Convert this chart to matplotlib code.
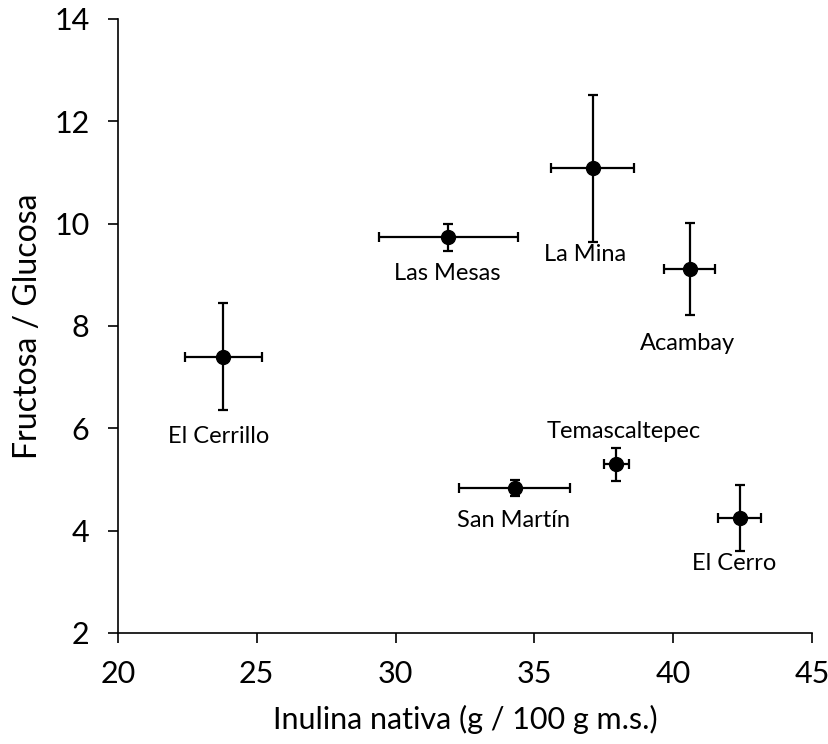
import matplotlib.pyplot as plt

# sitios y valores
sitios = ['El Cerrillo', 'Las Mesas', 'La Mina', 'Acambay',
          'Temascaltepec', 'San Martín', 'El Cerro']
inulina = [23.8, 31.9, 37.1, 40.6, 37.95, 34.3, 42.4]
inulina_err = [1.4, 2.5, 1.5, 0.92, 0.45, 2.0, 0.77]
fg = [7.4, 9.73, 11.08, 9.11, 5.30, 4.83, 4.25]
fg_err = [1.05, 0.27, 1.43, 0.9, 0.32, 0.16, 0.64]

# desplazamiento de cada etiqueta (pixeles)
offsets = [(-5, -80), (-1, -36), (-8, -86), (-2, -74), (7, 33), (-1, -32), (-6, -46)]

plt.rcParams['font.family'] = ['Lato', 'DejaVu Sans']

fig = plt.figure(figsize=(8.29, 7.44), dpi=100)
ax = fig.add_axes([0.1423, 0.1492, 0.8372, 0.8253])

ax.errorbar(inulina, fg, xerr=inulina_err, yerr=fg_err, fmt='o', color='black',
            markersize=10, elinewidth=1.6, capsize=3.5, capthick=1.6)

for nombre, x, y, off in zip(sitios, inulina, fg, offsets):
    ax.annotate(nombre, (x, y), xytext=off, textcoords='offset pixels',
                ha='center', va='center', fontsize=17)

ax.set_xlim(20, 45)
ax.set_ylim(2, 14)
ax.set_xticks([20, 25, 30, 35, 40, 45])
ax.set_yticks([2, 4, 6, 8, 10, 12, 14])
ax.spines['top'].set_visible(False)
ax.spines['right'].set_visible(False)
for s in ['left', 'bottom']:
    ax.spines[s].set_linewidth(1.2)
ax.tick_params(direction='out', length=7.5, width=1.2, labelsize=22)
ax.tick_params(axis='x', pad=12)
ax.tick_params(axis='y', pad=13)
ax.set_xlabel('Inulina nativa (g / 100 g m.s.)', fontsize=22, labelpad=12)
ax.set_ylabel('Fructosa / Glucosa', fontsize=23, labelpad=8)

fig.savefig('out.png', dpi=100)
